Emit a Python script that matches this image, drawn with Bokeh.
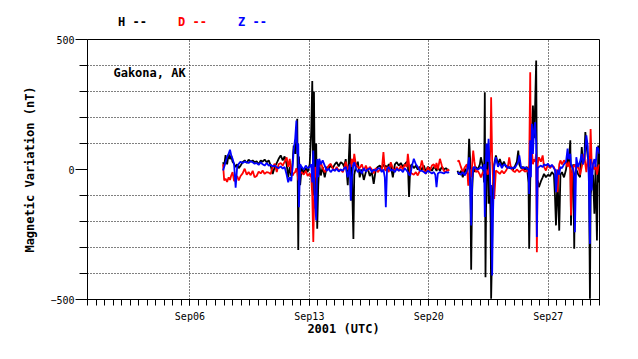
import numpy as np
from bokeh.plotting import figure
from bokeh.models import FixedTicker, Label, Range1d, ColumnDataSource, Div
from bokeh.layouts import column
from bokeh.embed import file_html
from bokeh.resources import INLINE

nan = float("nan")

# time in days of September 2001 (N.0 = Sep N 00:00 UTC)
days = [
    7.94, 8.01, 8.09, 8.18, 8.27, 8.35, 8.42, 8.50, 8.59, 8.68,
    8.77, 8.86, 8.97, 9.09, 9.21, 9.33, 9.44, 9.56, 9.68, 9.79,
    9.91, 10.03, 10.15, 10.26, 10.38, 10.50, 10.62, 10.73, 10.85, 10.97,
    11.09, 11.20, 11.32, 11.44, 11.55, 11.67, 11.76, 11.85, 11.94, 12.02,
    12.08, 12.17, 12.24, 12.29, 12.35, 12.39, 12.46, 12.55, 12.67, 12.79,
    12.90, 13.02, 13.11, 13.17, 13.23, 13.27, 13.33, 13.40, 13.46, 13.52,
    13.58, 13.67, 13.78, 13.90, 14.02, 14.13, 14.25, 14.37, 14.49, 14.60,
    14.72, 14.84, 14.96, 15.04, 15.13, 15.25, 15.37, 15.43, 15.48, 15.58,
    15.63, 15.72, 15.84, 15.95, 16.07, 16.19, 16.31, 16.42, 16.54, 16.66,
    16.77, 16.89, 17.01, 17.13, 17.24, 17.34, 17.42, 17.48, 17.55, 17.65,
    17.77, 17.89, 18.01, 18.12, 18.24, 18.36, 18.48, 18.59, 18.71, 18.77,
    18.84, 18.91, 19.00, 19.12, 19.24, 19.35, 19.47, 19.59, 19.71, 19.82,
    19.94, 20.06, 20.18, 20.29, 20.38, 20.45, 20.53, 20.65, 20.76, 20.88,
    21.00, 21.11, 21.19, 21.40, 21.68, 21.76, 21.88, 21.99, 22.11, 22.23,
    22.31, 22.36, 22.42, 22.48, 22.54, 22.60, 22.67, 22.76, 22.87, 22.99,
    23.05, 23.17, 23.24, 23.28, 23.32, 23.38, 23.44, 23.50, 23.56, 23.62,
    23.65, 23.71, 23.75, 23.83, 23.93, 24.05, 24.16, 24.28, 24.40, 24.52,
    24.63, 24.71, 24.81, 24.93, 25.04, 25.16, 25.24, 25.30, 25.40, 25.51,
    25.63, 25.75, 25.84, 25.88, 25.94, 25.98, 26.04, 26.10, 26.16, 26.23,
    26.29, 26.33, 26.38, 26.45, 26.57, 26.67, 26.75, 26.86, 26.98, 27.10,
    27.21, 27.33, 27.39, 27.45, 27.54, 27.64, 27.71, 27.80, 27.92, 28.04,
    28.13, 28.19, 28.29, 28.33, 28.39, 28.46, 28.52, 28.56, 28.64, 28.74,
    28.86, 28.96, 29.03, 29.11, 29.17, 29.23, 29.31, 29.38, 29.44, 29.48,
    29.54, 29.62, 29.70, 29.77, 29.85, 29.93, 30.00,
]

h_nT = [
    28, 15, 55, 20, 60, 40, 54, 30, 22, 9,
    20, 5, 15, 28, 35, 25, 38, 30, 35, 28,
    32, 20, 35, 30, 38, 28, 35, 15, -17, 10,
    25, 41, 54, 35, 50, 20, -30, 10, -25, 30,
    92, 60, 120, 195, -310, 50, -60, 10, -15, 5,
    -10, 20, 150, 340, -100, 300, -150, 100, -228, -60,
    20, -23, 10, -30, 10, 3, 15, 5, 20, 28,
    12, 28, 22, 10, 40, -60, 137, -119, 20, -267,
    -20, 9, 30, -30, 0, -40, -10, 5, -25, -10,
    -55, 0, 10, 15, 5, 20, 10, 15, 5, 20,
    15, -30, 20, 28, 15, 25, 10, 20, 30, 25,
    -106, 10, 20, 5, 15, 0, 10, 0, 15, -10,
    10, 5, -5, 10, 5, -5, 8, -5, 10, 0,
    5, -2, 0, nan, -5, -20, -5, -30, 3, -15,
    10, 118, 40, -386, -80, 10, -10, 9, 0, 20,
    47, 10, -50, 297, -414, 60, 73, -132, 30, -200,
    -497, -300, -80, 20, 54, 20, 40, 15, 30, 10,
    15, 5, 10, 0, 12, 30, 73, 20, 5, 10,
    0, 10, -50, -305, -50, 50, 150, 246, 120, 250,
    419, -55, -42, -68, -45, -30, -17, -30, -20, -25,
    -10, -20, -100, -215, -30, -235, -20, -10, -30, 0,
    50, 20, 112, -215, -30, 20, -305, -20, 0, -17,
    -30, 86, 20, 40, 144, 100, 50, 20, -497, -100,
    -60, -20, -170, 10, -273, 92, -50,
]

d_nT = [
    20, -42, -35, -48, -30, -40, -23, -10, -45, -36,
    -25, -42, -25, -15, 3, -20, -10, -22, -5, -30,
    -25, -8, -15, -4, -17, -10, -12, -17, 10, 22,
    -10, 20, 25, 15, 30, 47, 10, 41, -10, -23,
    -15, -10, 5, -10, -42, -30, -15, -10, -20, -5,
    -25, -15, -30, -100, -279, -150, 10, -30, 15, 28,
    10, 28, 5, -10, 0, 15, 22, 5, -5, 10,
    -5, 0, -10, 5, 30, 0, 15, 10, 41, 20,
    60, 20, 10, 5, 20, -5, 15, -4, 10, 0,
    -15, 5, -10, 0, -5, 67, 0, -5, 10, -10,
    28, 5, -5, 10, -5, 15, 0, 20, 10, 60,
    20, -10, -15, -20, -10, -23, -5, 35, 0, -17,
    10, -5, 15, 20, 5, 25, 0, 41, 15, -5,
    -10, 0, -5, nan, 30, 35, 10, -10, 9, 20,
    -62, -20, 0, -30, 20, 73, 30, -10, -5, -20,
    -30, -10, -15, -5, -10, 0, -20, -10, 20, 100,
    278, 40, -20, -113, -4, -10, -17, -5, -15, -5,
    10, 47, 5, -5, -10, 0, -5, -10, -4, 0,
    -8, -4, -10, 20, 374, 40, 73, 20, 40, 30,
    60, -318, 22, 47, 30, 54, 10, -4, 20, 5,
    15, 10, -5, 0, -87, 20, 35, 20, 35, 25,
    10, 30, 0, -177, -20, 10, 15, 20, 0, 20,
    -20, 10, 30, 60, 20, -10, 40, 10, 50, 156,
    30, 10, 0, 20, -20, 10, 20,
]

z_nT = [
    -4, 10, 30, 47, 60, 76, 55, 41, 20, -70,
    10, 22, 30, 25, 30, 28, 25, 32, 28, 22,
    25, 18, 28, 20, 15, 25, 15, 18, 12, 15,
    8, 5, 12, 3, 10, -20, -49, -30, -45, 10,
    73, 120, 188, 60, 100, -145, 20, 9, 0, 15,
    5, 10, 20, -50, 73, -30, -120, -196, 40, -30,
    41, 20, 35, 15, -5, 3, -10, 0, -5, 3,
    -8, 0, -5, 5, 10, -30, 20, -119, -40, 20,
    28, 5, -10, 0, -15, 5, -8, 0, 5, -10,
    0, -5, 3, 5, -10, 0, -30, -145, 0, 10,
    -5, 0, -10, 3, -5, 0, -10, 5, -5, -10,
    -20, -23, 10, 41, 20, 10, -5, -5, -10, -15,
    -5, -10, -15, -10, -20, -68, -15, -10, -12, -15,
    -10, -12, -10, nan, -10, -15, -20, -10, -23, -5,
    20, 47, -60, -215, -40, 5, 10, 3, 0, 5,
    10, 0, 20, -183, -20, 99, 30, 118, 10, -100,
    -60, -408, -200, 10, 47, 10, 25, 5, 20, 15,
    5, 10, 3, 8, 5, 20, 30, 54, 10, 5,
    8, 5, 0, -94, 112, -30, 176, 60, 150, 182,
    100, -260, 5, 10, 15, 9, 20, 15, 22, 10,
    18, 5, 0, -87, 0, -20, 10, 5, 20, 30,
    80, 40, 60, 20, 10, 0, -30, -241, 47, 10,
    30, 60, 20, 40, 80, 131, 90, -50, -286, 40,
    -81, 20, 40, 10, 86, 80, 60,
]

x_tick_days = [6, 13, 20, 27]
x_tick_labels = ["Sep06", "Sep13", "Sep20", "Sep27"]
y_major = [-500, 0, 500]
y_minor = [-400, -300, -200, -100, 100, 200, 300, 400]
series_names = ["H", "D", "Z"]
series_colors = ["black", "#ff0000", "#0000ff"]
station = "Gakona, AK"

FONT = "DejaVu Sans Mono"

p = figure(width=630, height=320, output_backend="svg", toolbar_location=None,
           x_range=Range1d(0, 30), y_range=Range1d(-500, 500),
           min_border_left=87, min_border_right=31, min_border_top=8,
           min_border_bottom=52)
p.background_fill_color = "white"
p.border_fill_color = "white"
p.outline_line_color = "black"
p.outline_line_width = 1

src = ColumnDataSource(dict(t=days, H=np.array(h_nT, dtype=float),
                            D=np.array(d_nT, dtype=float),
                            Z=np.array(z_nT, dtype=float)))
for name, col in zip(series_names, series_colors):
    p.line("t", name, source=src, color=col, line_width=1.8)

# x axis
p.xaxis.ticker = FixedTicker(ticks=x_tick_days,
                             minor_ticks=[i * 0.5 for i in range(61)])
p.xaxis.major_label_overrides = {d: l for d, l in zip(x_tick_days, x_tick_labels)}
p.xaxis.major_tick_in = 0
p.xaxis.major_tick_out = 6
p.xaxis.minor_tick_in = 0
p.xaxis.minor_tick_out = 6
p.xaxis.major_label_standoff = 5
p.xaxis.axis_label = "2001 (UTC)"
p.xaxis.axis_label_standoff = -3

# y axis
p.yaxis.ticker = FixedTicker(ticks=y_major, minor_ticks=y_minor)
p.yaxis.major_tick_in = 0
p.yaxis.major_tick_out = 12
p.yaxis.minor_tick_in = 0
p.yaxis.minor_tick_out = 8
p.yaxis.major_label_standoff = 1
p.yaxis.axis_label = "Magnetic Variation (nT)"
p.yaxis.axis_label_standoff = 10

for ax in (p.xaxis[0], p.yaxis[0]):
    ax.axis_line_color = "black"
    ax.major_tick_line_color = "black"
    ax.minor_tick_line_color = "black"
    ax.major_label_text_font = FONT
    ax.major_label_text_font_size = "10px"
    ax.major_label_text_color = "black"
    ax.axis_label_text_font = FONT
    ax.axis_label_text_font_size = "12px"
    ax.axis_label_text_font_style = "bold"
    ax.axis_label_text_color = "black"

p.xgrid.ticker = FixedTicker(ticks=x_tick_days)
p.ygrid.ticker = FixedTicker(ticks=y_minor)
for g in (p.xgrid[0], p.ygrid[0]):
    g.grid_line_color = "black"
    g.grid_line_dash = "1 2"
    g.grid_line_width = 1

p.add_layout(Label(x=1.52, y=373, text=station, text_color="black",
                   text_font=FONT, text_font_size="12px", text_font_style="bold",
                   text_baseline="middle", text_align="left"))

# header with the series key
legend_left_px = [118, 178, 238]
spans = "".join(
    f'<span style="position:absolute;left:{lx}px;top:15px;line-height:14px;'
    f'color:{col};white-space:pre">{name} --</span>'
    for name, col, lx in zip(series_names, series_colors, legend_left_px))
header = Div(
    text=(f'<div style="position:relative;width:630px;height:31px;'
          f"font-family:'{FONT}',monospace;font-weight:bold;font-size:12px;\">"
          f"{spans}</div>"),
    width=630, height=31, margin=(0, 0, 0, 0))

layout = column(header, p, spacing=0)
open("out.html", "w").write(file_html(layout, INLINE))
